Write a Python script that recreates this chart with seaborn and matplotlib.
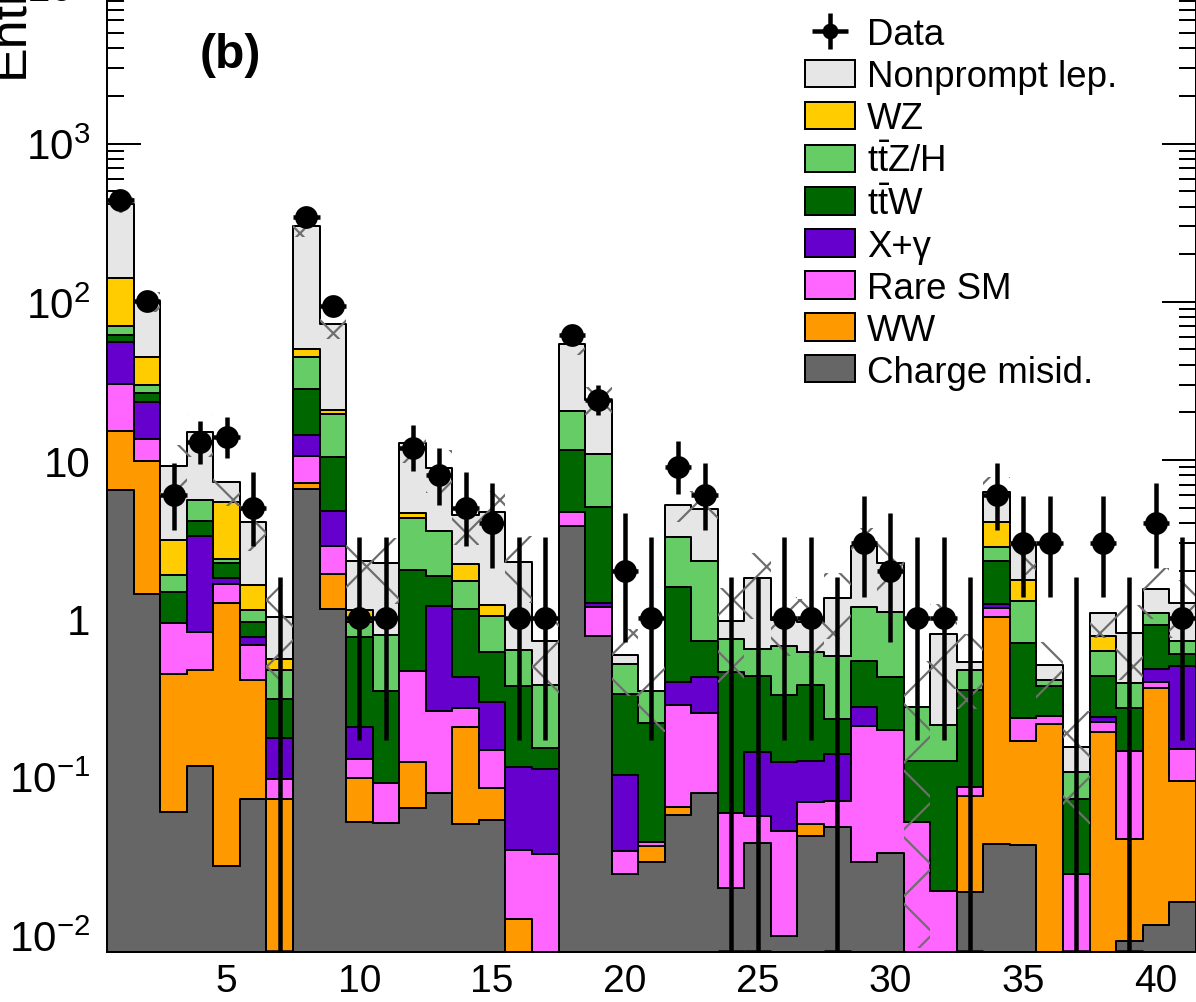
import numpy as np
import pandas as pd
import seaborn as sns
import matplotlib
matplotlib.use("Agg")
import matplotlib.pyplot as plt
from matplotlib.ticker import LogLocator, MultipleLocator, FuncFormatter, NullFormatter
from matplotlib.patches import Patch

# bin contents (41 signal-region bins)
bins = np.arange(1, 42)
edges = np.arange(0.5, 42.5, 1.0)

nonprompt = [274, 55.7, 6.06, 9.4, 1.84, 2.45, 0.47, 249.6, 51.6, 1.17,
             1.445, 8.17, 5.29, 2.29, 3.5, 1.65, 0.342, 33.6, 13.1, 0.072,
             0, 1.95, 2.59, 0.228, 1.149, 0.303, 0.339, 0.759, 1.705, 1.15,
             0, 0.584, 0.059, 2.18, 1.16, 0.103, 0.0463, 0.309, 0.419, 0.45,
             0.53]
wz = [71, 15.2, 1.25, 0, 3.09, 0.50, 0.078, 5.8, 1.2, 0.186,
      0, 0.32, 0, 0.48, 0.18, 0, 0, 0, 0, 0,
      0, 0, 0, 0, 0, 0, 0, 0, 0, 0,
      0, 0, 0, 1.27, 0.46, 0, 0, 0.152, 0, 0,
      0]
ttzh = [8, 3.3, 0.43, 1.5, 0.14, 0.186, 0.162, 16.5, 9.2, 0.184,
        0.436, 2.28, 1.72, 0.58, 0.423, 0.254, 0.23, 8.9, 5.82, 0.182,
        0.128, 1.665, 1.604, 0.285, 0.211, 0.339, 0.232, 0.35, 0.634, 0.665,
        0.148, 0.086, 0.119, 0.49, 0.593, 0.029, 0.0344, 0.184, 0.121, 0.172,
        0.124]
ttw = [6.5, 3.1, 0.53, 0.8, 0.44, 0.184, 0.135, 13.8, 5.65, 0.555,
       0.258, 1.566, 0.67, 0.725, 0.319, 0.2615, 0.04, 6.88, 3.83, 0.2304,
       0.179, 1.187, 0.291, 0.397, 0.2875, 0.2035, 0.253, 0.092, 0.267, 0.228,
       0.0745, 0.107, 0.269, 1.09, 0.463, 0.133, 0.048, 0.198, 0.124, 0.429,
       0.094]
xgamma = [25.2, 9.9, 0, 2.48, 0.14, 0.08, 0.079, 3.7, 1.87, 0.076,
          0, 0, 0.932, 0.155, 0.15, 0.0799, 0.0785, 0.05, 0.075, 0.0688,
          0, 0.114, 0.173, 0, 0.0863, 0.0789, 0.0565, 0.0685, 0.064, 0,
          0, 0, 0, 0.07, 0, 0, 0, 0.016, 0, 0.081,
          0.352]
rare = [15, 3.6, 0.484, 0.35, 0.40, 0.275, 0.024, 3.4, 0.96, 0.031,
        0.040, 0.341, 0.18, 0.065, 0.063, 0.022, 0.0325, 0.82, 0.397, 0.0095,
        0.0021, 0.22, 0.1735, 0.0391, 0.0181, 0.0358, 0.0195, 0.0226, 0.181, 0.164,
        0.0515, 0.0188, 0.0098, 0.144, 0.065, 0.028, 0.0243, 0.029, 0.1057, 0.037,
        0.055]
ww = [8.8, 8.47, 0.386, 0.354, 1.2226, 0.333, 0.072, 0.6, 0.77, 0.0465,
      0, 0.06, 0, 0.155, 0.0315, 0.0126, 0, 0, 0, 0,
      0.0077, 0.0064, 0, 0, 0, 0, 0.0076, 0, 0, 0,
      0, 0, 0.0573, 0.978, 0.132, 0.215, 0, 0.192, 0.0311, 0.35,
      0.078]
chmisid = [6.5, 1.43, 0.060, 0.116, 0.0274, 0.072, 0, 6.6, 1.15, 0.0515,
           0.051, 0.063, 0.0785, 0.050, 0.0535, 0, 0, 3.85, 0.778, 0.0243,
           0.029, 0.0576, 0.0785, 0.0199, 0.0381, 0.0098, 0.0424, 0.0479, 0.029, 0.033,
           0, 0, 0.0186, 0.0376, 0.037, 0, 0, 0, 0.0092, 0.0115,
           0.0161]

# relative size of the hatched uncertainty band
rel_unc = [0.12, 0.15, 0.35, 0.3, 0.3, 0.35, 0.6, 0.15, 0.2, 0.4,
           0.45, 0.25, 0.3, 0.35, 0.35, 0.45, 0.6, 0.15, 0.2, 0.45,
           0.45, 0.22, 0.3, 0.6, 0.45, 0.4, 0.4, 0.45, 0.3, 0.35,
           0.97, 0.55, 0.5, 0.25, 0.35, 0.4, 0.7, 0.3, 0.5, 0.35,
           0.4]

data_counts = [442, 101, 6, 13, 14, 5, 0, 342, 94, 1,
               1, 12, 8, 5, 4, 1, 1, 62, 24, 2,
               1, 9, 6, 0, 0, 1, 1, 0, 3, 2,
               1, 1, 0, 6, 3, 3, 0, 3, 0, 4,
               1]

labels = ["Nonprompt lep.", "WZ", r"$\mathrm{t\bar{t}}$Z/H", r"$\mathrm{t\bar{t}}$W",
          "X+γ", "Rare SM", "WW", "Charge misid."]
colors = ["#e6e6e6", "#ffcc00", "#66cc66", "#006600", "#6600cc", "#ff66ff", "#ff9900", "#666666"]
series = [nonprompt, wz, ttzh, ttw, xgamma, rare, ww, chmisid]

DPI = 200


def px(v):
    # pixel size -> points at this dpi
    return v * 72.0 / DPI


sns.set_theme(style="ticks", rc={"axes.edgecolor": "black", "xtick.color": "black",
                                 "ytick.color": "black", "text.color": "black"})
plt.rcParams["font.family"] = ["Liberation Sans", "DejaVu Sans"]
plt.rcParams["mathtext.fontset"] = "custom"
plt.rcParams["mathtext.rm"] = "Liberation Sans"
plt.rcParams["mathtext.it"] = "Liberation Sans:italic"
plt.rcParams["mathtext.bf"] = "Liberation Sans:bold"
plt.rcParams["hatch.linewidth"] = px(2.2)
plt.rcParams["hatch.color"] = "#6e6e6e"
plt.rcParams["axes.linewidth"] = px(2)

YMIN, YMAX = 10 ** -2.11, 10 ** 4.2

fig = plt.figure(figsize=(1196 / DPI, 1003 / DPI), dpi=DPI)
ax = fig.add_axes([0.08963, 0.04955, 0.91016, 0.99571])

# long table for the stacked histogram
df = pd.concat([pd.DataFrame({"bin": bins, "process": lab, "events": vals})
                for lab, vals in zip(labels, series)], ignore_index=True)

sns.histplot(data=df, x="bin", weights="events", hue="process", hue_order=labels,
             palette=dict(zip(labels, colors)), multiple="stack", element="step",
             bins=list(edges), alpha=1, edgecolor="black", linewidth=px(2),
             legend=False, ax=ax)
ax.set_yscale("log")

# uncertainty band
total = np.sum(np.array(series, dtype=float), axis=0)
unc = np.array(rel_unc)
ax.stairs(total * (1 + unc), edges, baseline=total * (1 - unc), fill=True,
          facecolor="none", edgecolor="#6e6e6e", hatch="x", linewidth=0, zorder=2)

# data with Poisson (Garwood-like) intervals
n = np.array(data_counts, dtype=float)
nz = np.maximum(n, 1)
err_lo = np.where(n > 0, n - n * (1 - 1 / (9 * nz) - 1 / (3 * np.sqrt(nz))) ** 3, 0)
err_hi = (n + 1) * (1 - 1 / (9 * (n + 1)) + 1 / (3 * np.sqrt(n + 1))) ** 3 - n
pos = n > 0
eb = ax.errorbar(bins[pos], n[pos], xerr=0.5, yerr=[err_lo[pos], err_hi[pos]],
                 fmt="o", color="black", ms=px(20), elinewidth=px(4.5), capsize=0, zorder=4)
zero = ~pos
ax.errorbar(bins[zero], np.full(zero.sum(), YMIN), xerr=0.5,
            yerr=[np.zeros(zero.sum()), err_hi[zero]], fmt="none", ecolor="black",
            elinewidth=px(4.5), capsize=0, zorder=4, clip_on=True)

ax.set_xlim(0.5, 41.5)
ax.set_ylim(YMIN, YMAX)
ax.set_xlabel("")
ax.set_ylabel("")

ax.xaxis.set_major_locator(MultipleLocator(5))
ax.xaxis.set_minor_locator(MultipleLocator(1))
ax.yaxis.set_major_locator(LogLocator(base=10, numticks=100))
ax.yaxis.set_minor_locator(LogLocator(base=10, subs=np.arange(2, 10), numticks=100))
ax.yaxis.set_minor_formatter(NullFormatter())


def ylab(v, pos):
    e = int(round(np.log10(v)))
    if e == 0:
        return "1"
    if e == 1:
        return "10"
    return r"$10^{%d}$" % e


ax.yaxis.set_major_formatter(FuncFormatter(ylab))
ax.tick_params(axis="y", which="major", direction="in", length=px(34), width=px(2),
               labelsize=px(42), pad=px(17), left=True, right=True)
ax.tick_params(axis="y", which="minor", direction="in", length=px(17), width=px(2),
               left=True, right=True)
ax.tick_params(axis="x", which="major", direction="in", length=px(30), width=px(2),
               labelsize=px(39), pad=px(11), bottom=True, top=True)
ax.tick_params(axis="x", which="minor", direction="in", length=px(15), width=px(2),
               bottom=True, top=True)
for s in ax.spines.values():
    s.set_linewidth(px(2))
    s.set_color("black")

# legend
handles = [eb] + [Patch(facecolor=c, edgecolor="black", linewidth=px(2)) for c in colors]
fs = 36.6
ax.legend(handles, ["Data"] + labels, loc="upper left",
          bbox_to_anchor=(805 / 1196, 1 - 18 / 1003), bbox_transform=fig.transFigure,
          frameon=False, fontsize=px(fs), handlelength=50 / fs, handleheight=28 / fs,
          handletextpad=12 / fs, labelspacing=0.19, borderpad=0, borderaxespad=0,
          markerscale=0.65)

fig.text(230 / 1196, 1 - 55 / 1003, "(b)", fontsize=px(48), fontweight="bold",
         ha="center", va="center")
fig.text(33 / 1196, 1 - 78 / 1003, "Entries", rotation=90, fontsize=px(52),
         ha="right", va="bottom")

fig.savefig("out.png", dpi=DPI)
